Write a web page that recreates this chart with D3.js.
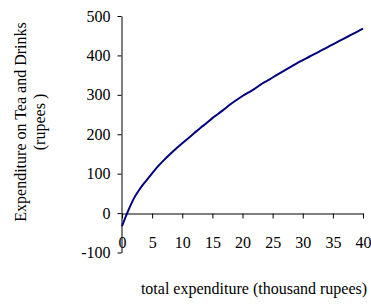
<!DOCTYPE html>
<html><head><meta charset="utf-8">
<script src="https://cdn.jsdelivr.net/npm/d3@7"></script>
<style>
body{margin:0;background:#fff;}
svg{display:block;}
text{font-family:"Liberation Serif","Times New Roman",serif;font-size:16px;fill:#000;}
</style></head>
<body>
<svg id="chart" width="371" height="307"></svg>
<script>
const expenditure = [0,1,2,3,4,5,6,7,8,9,10,11,12,13,14,15,16,17,18,19,20,21,22,23,24,25,26,27,28,29,30,31,32,33,34,35,36,37,38,39,40];
const teaDrinks = [-33,5,38,62,82,101,119,135,150,164,177,190,203,216,228,241,252,264,276,287,297,306,315,326,335,344,353,362,371,380,388,396,404,412,420,428,436,444,452,460,468];
const xTicks = [0,5,10,15,20,25,30,35,40];
const yTicks = [-100,0,100,200,300,400,500];
const xTitle = "total expenditure (thousand rupees)";
const yTitle = ["Expenditure on Tea and Drinks","(rupees )"];

const svg = d3.select("#chart");
const x = d3.scaleLinear().domain([0,40]).range([122,363]);
const y = d3.scaleLinear().domain([-100,500]).range([252.5,16]);

// y axis
const ya = svg.append("g").attr("transform",`translate(${x(0)-0.5},0)`)
  .call(d3.axisLeft(y).tickValues(yTicks).tickSize(4).tickSizeOuter(0).tickPadding(7).tickFormat(d3.format("d")));
ya.selectAll("text").style("font-size","16px").attr("dy","0.32em").text(d=>d<0?"-"+Math.abs(d):d);
ya.select(".domain").attr("stroke","#000");
ya.selectAll(".tick line").attr("stroke","#000");

// x axis at y=0
const xa = svg.append("g").attr("transform",`translate(0,${Math.round(y(0))+0.5})`)
  .call(d3.axisBottom(x).tickValues(xTicks).tickSize(5).tickSizeOuter(0).tickFormat(d3.format("d")));
xa.selectAll("text").style("font-size","16px").attr("y",23);
xa.select(".domain").attr("stroke","#000");
xa.selectAll(".tick line").attr("stroke","#000");

// line
const data = expenditure.map((e,i)=>({e, v:teaDrinks[i]}));
svg.append("path").datum(data)
  .attr("fill","none").attr("stroke","#000080").attr("stroke-width",2)
  .attr("d", d3.line().x(d=>x(d.e)).y(d=>y(d.v)).curve(d3.curveMonotoneX));

// titles
svg.append("text").attr("x",254).attr("y",294).attr("text-anchor","middle").text(xTitle);
const yt = svg.append("text").attr("transform","translate(26,122) rotate(-90)").attr("text-anchor","middle");
yt.append("tspan").attr("x",0).attr("y",0).text(yTitle[0]);
yt.append("tspan").attr("x",0).attr("y",19).text(yTitle[1]);
</script>
</body></html>
